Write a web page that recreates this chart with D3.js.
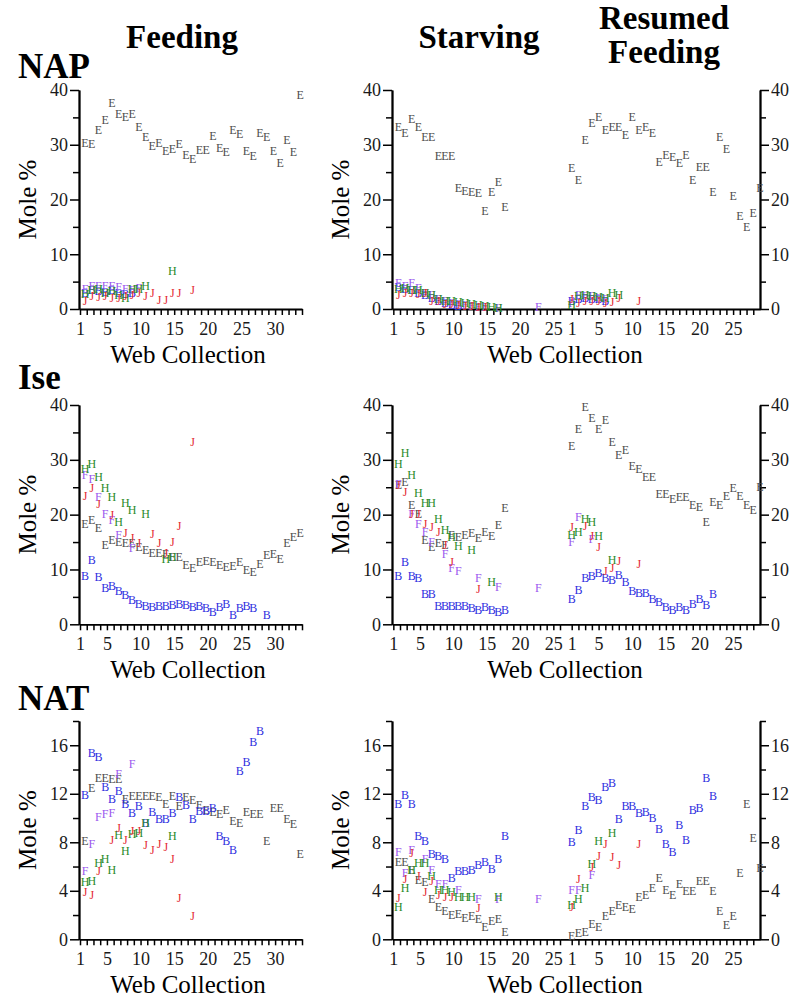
<!DOCTYPE html>
<html><head><meta charset="utf-8">
<script src="https://cdn.jsdelivr.net/npm/d3@7"></script>
<style>body{margin:0;background:#fff}</style>
</head><body>
<svg id="c" width="800" height="1006"></svg>
<script>
// ---------- DATA (values indexed from Web Collection 1; null = no sample) ----------
const seriesKeys = ["E", "B", "F", "H", "J"];
const seriesColors = ["#4d4d4d", "#2f2fe0", "#9a58ee", "#2a8a2a", "#e42a32"];

// NAP
const napFeedE = [30.3,30.2,32.7,34.5,37.6,35.6,35.1,35.6,33.2,31.4,29.8,30.3,28.8,29.2,30.2,28.1,27.5,29.1,29.1,31.7,29.4,28.6,32.8,32.0,28.8,28.0,32.1,31.4,28.9,26.6,30.8,28.6,39.1];
const napFeedB = [3.0,3.4,3.3,3.2,3.4,3.0,2.8,3.0];
const napFeedF = [3.6,4.2,4.3,4.3,4.3,4.0,3.6,3.4,3.9];
const napFeedH = [2.8,3.5,3.7,3.0,3.3,2.6,2.0,3.6,3.7,4.2,null,null,null,6.9];
const napFeedJ = [1.4,2.3,2.2,2.3,2.0,2.0,2.3,2.6,2.9,2.4,3.0,1.7,1.7,2.9,2.9,null,3.5];

const napStarveE = [33.3,32.1,34.8,33.3,31.4,31.4,28.0,28.0,28.0,22.1,21.5,21.3,21.2,18.0,21.3,23.3,18.7];
const napStarveB = [4.0,3.7,3.5,3.0,2.5,2.0,1.5,1.2,0.8,0.5];
const napStarveF = [4.8,4.3,4.8,3.8,3.0,2.5,1.8,1.5,1.2,1.0,0.8,0.5,0.3,0.3,null,0.2,null,null,null,null,null,0.3];
const napStarveH = [3.7,3.8,3.5,3.5,3.0,2.5,1.8,1.5,1.5,1.3,1.2,1.0,0.8,0.5,0.3,0.2];
const napStarveJ = [2.5,3.0,3.0,2.8,3.0,1.5,1.5,1.0,1.0,0.8,0.5,0.5,0.3,0.3];

const napResumeE = [25.7,23.5,30.9,33.9,35.1,32.7,33.3,33.3,31.8,35.1,32.7,33.2,32.1,26.9,28.1,27.8,26.7,28.1,23.6,25.9,25.9,21.3,31.5,29.2,20.7,17.0,15.0,17.6,22.1];
const napResumeB = [1.5,1.8,2.0,1.8,1.8,1.5];
const napResumeF = [1.2,2.5,2.3,2.3,2.0,1.8];
const napResumeH = [0.8,2.3,2.6,2.4,2.2,2.0,2.9,2.5];
const napResumeJ = [1.8,1.2,1.5,1.4,1.5,1.2,1.3,2.1,null,null,1.4];

// Ise
const iseFeedE = [18.4,19.1,17.5,14.5,15.4,15.1,14.8,14.9,14.2,13.6,13.1,13.1,12.8,12.3,12.2,10.8,10.2,11.4,11.6,11.4,10.8,10.5,10.6,11.4,10.0,9.6,11.1,12.6,12.9,11.9,14.8,16.0,16.6];
const iseFeedB = [8.8,11.7,8.7,6.6,7.0,6.0,5.3,4.4,3.8,3.3,3.2,3.3,3.3,3.5,3.8,3.5,3.1,3.3,2.9,2.3,3.1,3.8,1.7,2.9,3.3,2.9,null,1.7];
const iseFeedF = [27.2,26.6,23.3,20.2,19.0,16.3,null,13.9];
const iseFeedH = [28.4,29.2,26.8,24.8,23.3,18.7,22.2,20.9,null,20.2,null,null,12.0,12.2];
const iseFeedJ = [23.4,24.8,21.9,null,19.9,null,16.6,15.7,14.8,null,16.5,14.8,13.1,15.1,17.9,null,33.3];

const iseStarveE = [25.5,26.0,21.8,20.1,15.4,14.2,14.8,14.5,16.3,16.0,16.3,16.6,15.7,16.9,16.1,18.1,21.2];
const iseStarveB = [8.8,11.4,8.8,8.4,5.5,5.5,3.3,3.3,3.3,3.3,3.3,2.9,2.6,3.1,2.7,2.3,2.6];
const iseStarveF = [25.6,null,20.2,18.4,16.9,15.1,null,12.9,10.2,9.7,null,null,8.4,null,null,6.9,null,null,null,null,null,6.7];
const iseStarveH = [29.2,31.2,27.2,23.9,22.1,22.1,19.3,17.2,16.0,14.3,null,13.5,null,null,7.8];
const iseStarveJ = [25.4,24.2,20.1,20.2,18.4,17.8,16.9,14.5,11.4,null,null,null,6.4];

const iseResumeE = [32.5,35.6,39.7,37.6,35.6,37.3,33.3,30.9,31.8,28.9,28.4,26.8,26.8,23.8,23.8,22.8,23.3,23.3,21.8,21.5,18.7,22.4,21.8,23.4,24.8,23.4,21.8,20.9,25.1];
const iseResumeB = [4.6,6.3,8.4,8.8,9.3,8.4,8.1,9.0,7.8,6.1,5.8,5.8,4.6,4.0,3.2,2.7,3.1,2.7,3.8,4.6,3.5,5.5];
const iseResumeF = [15.0,19.6,null,15.5];
const iseResumeH = [16.3,16.9,19.3,18.7,16.1,null,11.7];
const iseResumeJ = [17.8,null,18.0,16.1,14.2,9.8,10.2,11.6,null,null,11.0];

// NAT
const natFeedE = [8.1,12.5,13.3,13.3,13.2,13.2,11.6,11.8,11.8,11.8,11.8,11.7,11.2,11.8,11.0,11.7,11.5,11.1,10.7,10.5,10.3,10.7,9.8,9.6,10.5,10.3,10.3,8.1,10.8,10.8,9.9,9.5,7.0];
const natFeedB = [11.9,15.4,15.0,12.6,11.6,12.2,11.2,10.4,11.0,9.6,10.5,9.9,9.9,10.4,11.7,11.1,9.9,10.6,10.6,10.8,8.5,8.1,7.4,13.9,14.6,16.3,17.2];
const natFeedF = [5.6,7.9,10.1,10.3,10.4,13.6,null,14.5];
const natFeedH = [4.7,4.8,6.3,6.6,5.7,8.6,7.3,8.7,8.8,9.6,null,null,null,8.5];
const natFeedJ = [3.9,3.7,5.6,null,8.2,9.2,8.2,8.9,8.9,7.8,7.4,7.9,7.6,6.6,3.4,null,1.9];

const natStarveE = [6.4,6.4,5.7,4.9,4.7,3.3,2.7,2.3,2.0,2.1,1.8,1.9,1.7,1.0,1.5,1.7,0.6];
const natStarveB = [11.2,11.9,11.2,8.5,8.1,7.0,6.9,6.6,5.1,5.6,5.6,5.7,6.1,6.4,5.8,6.6,8.5];
const natStarveF = [7.2,5.5,7.4,null,6.6,5.7,4.6,4.6,null,4.1,null,null,3.3,null,null,3.3,null,null,null,null,null,3.3];
const natStarveH = [2.7,4.2,5.7,6.3,6.3,5.2,4.1,4.1,3.9,3.5,3.5,3.5,null,null,null,3.5];
const natStarveJ = [3.4,5.0,7.1,5.2,3.9,4.8,3.7,3.5,3.5,null,null,null,2.6];

const natResumeE = [0.3,0.5,0.6,1.3,1.0,1.9,2.3,2.8,2.7,2.5,3.5,3.7,4.2,5.1,4.1,3.7,4.6,4.0,4.0,4.8,4.8,4.0,2.3,1.2,1.9,5.5,11.2,8.4,5.9];
const natResumeB = [8.0,9.0,11.0,11.7,11.5,12.6,12.9,9.9,11.0,11.0,10.4,10.5,10.0,9.1,7.9,7.2,9.4,8.2,10.7,10.8,13.3,11.8];
const natResumeF = [4.1,4.1,null,5.3];
const natResumeH = [2.8,3.3,4.2,6.2,8.1,null,8.8];
const natResumeJ = [2.7,5.0,null,6.0,6.9,7.9,6.8,6.1,null,null,7.9];

// tick labels
const feedXTicks = d3.range(1, 35);
const feedXLabels = [1,5,10,15,20,25,30];
const starveXTicks = d3.range(1, 27);
const starveXLabels = [1,5,10,15,20,25];
const resumeXTicks = d3.range(1, 29);
const resumeXLabels = [1,5,10,15,20,25];
const moleMajor40 = [0,10,20,30,40];
const moleMinor40 = [5,15,25,35];
const moleMajor18 = [0,4,8,12,16];
const moleMinor18 = [2,6,10,14,18];

const rowNames = ["NAP", "Ise", "NAT"];
const colNames = ["Feeding", "Starving", "Resumed Feeding"];

// ---------- LAYOUT ----------
const FONT = "'Liberation Serif','Times New Roman',Times,serif";
const svg = d3.select("#c");

const cols = [
  {x: d3.scaleLinear().domain([0.85, 34]).range([79, 302]), ticks: feedXTicks, labels: feedXLabels, dx: 5, side: "left", mole: true},
  {x: d3.scaleLinear().domain([0.8, 26]).range([392, 560]), ticks: starveXTicks, labels: starveXLabels, dx: 5, side: "left", mole: true},
  {x: d3.scaleLinear().domain([-0.74, 29]).range([560, 760]), ticks: resumeXTicks, labels: resumeXLabels, dx: 0, side: "right", mole: false}
];
const rows = [
  {y: d3.scaleLinear().domain([0, 40]).range([309, 90]), major: moleMajor40, minor: moleMinor40, labelY: 78},
  {y: d3.scaleLinear().domain([0, 40]).range([624.3, 405]), major: moleMajor40, minor: moleMinor40, labelY: 389},
  {y: d3.scaleLinear().domain([0, 18]).range([939.3, 721]), major: moleMajor18, minor: moleMinor18, labelY: 710}
];
const panelData = [
  [[napFeedE,napFeedB,napFeedF,napFeedH,napFeedJ],[napStarveE,napStarveB,napStarveF,napStarveH,napStarveJ],[napResumeE,napResumeB,napResumeF,napResumeH,napResumeJ]],
  [[iseFeedE,iseFeedB,iseFeedF,iseFeedH,iseFeedJ],[iseStarveE,iseStarveB,iseStarveF,iseStarveH,iseStarveJ],[iseResumeE,iseResumeB,iseResumeF,iseResumeH,iseResumeJ]],
  [[natFeedE,natFeedB,natFeedF,natFeedH,natFeedJ],[natStarveE,natStarveB,natStarveF,natStarveH,natStarveJ],[natResumeE,natResumeB,natResumeF,natResumeH,natResumeJ]]
];

function styleAxis(g) {
  g.attr("font-family", FONT);
  g.selectAll("path.domain").attr("stroke", "#000").attr("stroke-width", 1.8);
  g.selectAll(".tick line").attr("stroke", "#000").attr("stroke-width", 1.5);
  g.selectAll(".tick text").attr("fill", "#1a1a1a").style("font-family", FONT).style("font-size", "18px");
}

// Column headers
const hdr = svg.append("g").style("font-family", FONT).style("font-weight", "bold").style("font-size", "33px").attr("text-anchor", "middle").attr("fill", "#000");
hdr.append("text").attr("x", 182).attr("y", 48).text(colNames[0]);
hdr.append("text").attr("x", 479).attr("y", 48).text(colNames[1]);
const resumeWords = colNames[2].split(" ");
hdr.append("text").attr("x", 664).attr("y", 29).text(resumeWords[0]);
hdr.append("text").attr("x", 664).attr("y", 63).text(resumeWords[1]);

rows.forEach((row, ri) => {
  const y = row.y;
  // row label
  svg.append("text").attr("x", 18).attr("y", row.labelY)
    .style("font-family", FONT).style("font-weight", "bold").style("font-size", "35px").attr("fill", "#000")
    .text(rowNames[ri]);

  cols.forEach((col, ci) => {
    const x = col.x;
    const g = svg.append("g");
    // x axis
    const xa = g.append("g").attr("transform", `translate(0,${y(0)})`)
      .call(d3.axisBottom(x).tickValues(col.ticks).tickSize(6).tickSizeOuter(0).tickPadding(7)
        .tickFormat(d => col.labels.includes(d) ? d : ""));
    styleAxis(xa);

    // y axis
    const ax = col.side === "left" ? x.range()[0] : x.range()[1];
    const mk = col.side === "left" ? d3.axisLeft : d3.axisRight;
    const yMinor = g.append("g").attr("transform", `translate(${ax},0)`)
      .call(mk(y).tickValues(row.minor).tickSize(6).tickSizeOuter(0).tickFormat(""));
    styleAxis(yMinor);
    const yMajor = g.append("g").attr("transform", `translate(${ax},0)`)
      .call(mk(y).tickValues(row.major).tickSize(9).tickSizeOuter(0).tickPadding(2));
    styleAxis(yMajor);

    if (col.mole) {
      const cy = (y.range()[0] + y.range()[1]) / 2;
      svg.append("text").attr("transform", `translate(${ax - 43},${cy}) rotate(-90)`)
        .attr("text-anchor", "middle").style("font-family", FONT).style("font-size", "25px").attr("fill", "#000")
        .text("Mole %");
    }

    // markers (letters)
    const data = panelData[ri][ci];
    seriesKeys.forEach((k, si) => {
      const vals = data[si] || [];
      const pts = vals.map((v, i) => ({c: i + 1, v})).filter(d => d.v != null);
      g.append("g").selectAll("text").data(pts).join("text")
        .attr("x", d => x(d.c) + col.dx).attr("y", d => y(d.v)).attr("dy", "0.34em")
        .attr("text-anchor", "middle").style("font-family", FONT).style("font-size", "12px")
        .attr("fill", seriesColors[si]).text(k);
    });
  });

  // Web Collection labels
  const base = y(0);
  svg.append("text").attr("x", 188).attr("y", base + 54).attr("text-anchor", "middle")
    .style("font-family", FONT).style("font-size", "25px").attr("fill", "#000").text("Web Collection");
  svg.append("text").attr("x", 565).attr("y", base + 54).attr("text-anchor", "middle")
    .style("font-family", FONT).style("font-size", "25px").attr("fill", "#000").text("Web Collection");
});
</script>
</body></html>
